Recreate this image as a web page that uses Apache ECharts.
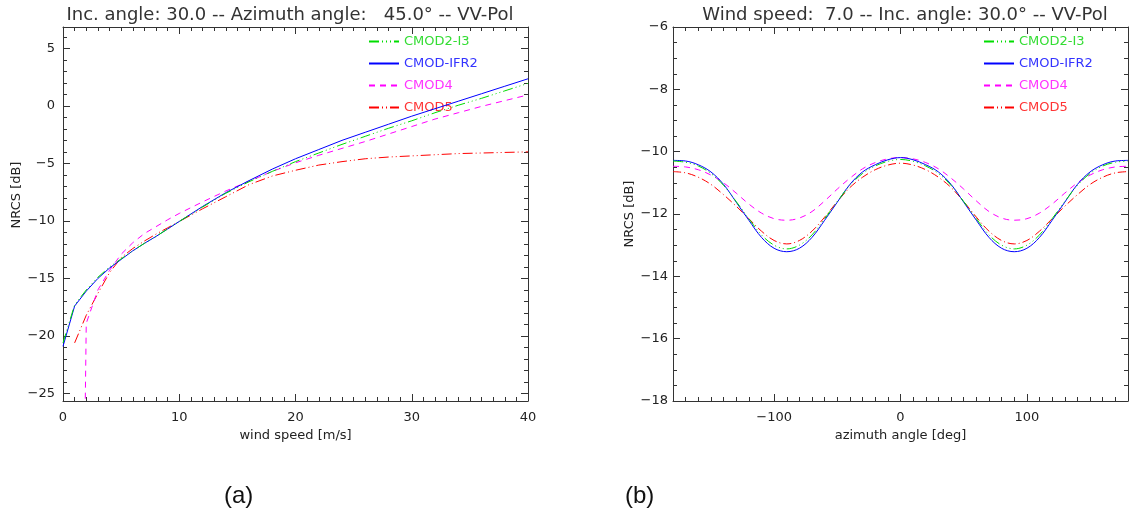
<!DOCTYPE html>
<html><head><meta charset="utf-8">
<script src="https://cdn.jsdelivr.net/npm/echarts@6/dist/echarts.min.js"></script>
<style>html,body{margin:0;padding:0;background:#fff}#c{width:1135px;height:519px}</style>
</head><body><div id="c"></div>
<script>
// ---------- data: panel (a) NRCS vs wind speed ----------
const windSpeed    = [0, 1, 2, 3, 4, 5, 6, 7, 8, 9, 10, 12, 14, 16, 18, 20, 22, 24, 26, 28, 30, 32, 34, 36, 38, 40];
const windCmod2I3  = [-20.6, -17.3, -16.0, -14.9, -14.0, -13.3, -12.6, -11.95, -11.35, -10.7, -10.05, -8.8, -7.6, -6.6, -5.7, -4.85, -4.1, -3.35, -2.65, -1.95, -1.3, -0.6, 0.05, 0.65, 1.3, 1.95];
const windCmodIfr2 = [-20.9, -17.4, -16.1, -15.0, -14.1, -13.35, -12.6, -11.95, -11.35, -10.7, -10.05, -8.75, -7.55, -6.5, -5.5, -4.6, -3.8, -3.0, -2.3, -1.6, -0.9, -0.25, 0.4, 1.05, 1.7, 2.35];
const windCmod4    = [null, -100, -18.9, -16.0, -14.3, -12.9, -11.9, -11.1, -10.5, -9.9, -9.35, -8.35, -7.4, -6.55, -5.7, -4.95, -4.3, -3.7, -3.1, -2.45, -1.8, -1.15, -0.6, -0.05, 0.45, 0.95];
const windCmod5    = [null, -20.6, -18.2, -16.3, -14.5, -13.2, -12.4, -11.75, -11.15, -10.6, -10.05, -8.95, -7.9, -6.85, -6.1, -5.6, -5.15, -4.85, -4.6, -4.45, -4.35, -4.25, -4.15, -4.1, -4.05, -4.0];

// ---------- data: panel (b) NRCS vs azimuth ----------
const azimuth     = [-180, -170, -160, -150, -140, -130, -120, -110, -100, -90, -80, -70, -60, -50, -40, -30, -20, -10, 0, 10, 20, 30, 40, 50, 60, 70, 80, 90, 100, 110, 120, 130, 140, 150, 160, 170, 180];
const aziCmod2I3  = [-10.3, -10.34, -10.46, -10.7, -11.08, -11.6, -12.15, -12.67, -13.0, -13.12, -13.0, -12.67, -12.15, -11.6, -11.08, -10.7, -10.46, -10.31, -10.25, -10.31, -10.46, -10.7, -11.08, -11.6, -12.15, -12.67, -13.0, -13.12, -13.0, -12.67, -12.15, -11.6, -11.08, -10.7, -10.46, -10.34, -10.3];
const aziCmodIfr2 = [-10.28, -10.3, -10.42, -10.65, -11.05, -11.62, -12.2, -12.75, -13.1, -13.21, -13.1, -12.75, -12.2, -11.62, -11.05, -10.65, -10.42, -10.26, -10.19, -10.26, -10.42, -10.65, -11.05, -11.62, -12.2, -12.75, -13.1, -13.21, -13.1, -12.75, -12.2, -11.62, -11.05, -10.65, -10.42, -10.3, -10.28];
const aziCmod4    = [-10.47, -10.49, -10.58, -10.75, -11.0, -11.33, -11.68, -11.97, -12.15, -12.2, -12.13, -11.92, -11.58, -11.2, -10.85, -10.55, -10.35, -10.23, -10.19, -10.23, -10.35, -10.55, -10.85, -11.2, -11.58, -11.92, -12.13, -12.2, -12.15, -11.97, -11.68, -11.33, -11.0, -10.75, -10.58, -10.49, -10.47];
const aziCmod5    = [-10.64, -10.68, -10.82, -11.05, -11.38, -11.75, -12.15, -12.55, -12.85, -12.96, -12.85, -12.55, -12.1, -11.6, -11.15, -10.82, -10.58, -10.43, -10.37, -10.43, -10.58, -10.82, -11.15, -11.6, -12.1, -12.55, -12.85, -12.96, -12.85, -12.55, -12.15, -11.75, -11.38, -11.05, -10.82, -10.68, -10.64];

// ---------- tick labels ----------
const windXTicks = [0, 10, 20, 30, 40];
const windYTicks = [-25, -20, -15, -10, -5, 0, 5];
const aziXTicks  = [-100, 0, 100];
const aziYTicks  = [-18, -16, -14, -12, -10, -8, -6];

const seriesNames = ['CMOD2-I3', 'CMOD-IFR2', 'CMOD4', 'CMOD5'];
const titleA = 'Inc. angle: 30.0 -- Azimuth angle:   45.0\u00b0 -- VV-Pol';
const titleB = 'Wind speed:  7.0 -- Inc. angle: 30.0\u00b0 -- VV-Pol';

// ---------- styling ----------
const AX = '#333';
const TXT = '#222';
const FONT = '"DejaVu Sans", "Liberation Sans", sans-serif';
const colors = {line: ['#00dd00', '#0000ff', '#ff00ff', '#ff0000'], text: ['#33dd33', '#3333ff', '#ff33ff', '#ff3333']};

function range(a, b, step) { const r = []; for (let v = a; v <= b + 1e-9; v += step) r.push(Math.round(v * 1000) / 1000); return r; }
const fmt = v => String(v).replace('-', '\u2212');

function axisSet(dim, gi, min, max, major, minor, opts) {
  const posA = dim === 'x' ? 'bottom' : 'left';
  const posB = dim === 'x' ? 'top' : 'right';
  const base = {
    type: 'value', gridIndex: gi, min: min, max: max,
    splitLine: {show: false}, minorTick: {show: false}, axisPointer: {show: false}
  };
  const mk = (pos, ticks, len, withLabel, withLine, withName) => Object.assign({}, base, {
    position: pos,
    axisLine: {show: withLine, onZero: false, lineStyle: {color: AX, width: 1}},
    axisTick: {show: true, inside: true, length: len, customValues: ticks, lineStyle: {color: AX, width: 1}},
    axisLabel: withLabel ? {show: true, customValues: major, formatter: fmt, margin: opts.margin, color: TXT, fontSize: 13, fontFamily: FONT} : {show: false},
    name: withName ? opts.name : '',
    nameLocation: 'middle', nameGap: opts.nameGap,
    nameRotate: dim === 'y' ? 90 : 0,
    nameTextStyle: {color: TXT, fontSize: 13, fontFamily: FONT, padding: opts.namePad || 0}
  });
  return [
    mk(posA, major, 7, true, true, true),
    mk(posA, minor, 4, false, false, false),
    mk(posB, major, 7, false, true, false),
    mk(posB, minor, 4, false, false, false)
  ];
}

const xAxes = [].concat(
  axisSet('x', 0, 0, 40, windXTicks, range(0, 40, 1), {name: 'wind speed [m/s]', nameGap: 25, margin: 10}),
  axisSet('x', 1, -180, 180, aziXTicks, range(-180, 180, 10), {name: 'azimuth angle [deg]', nameGap: 25, margin: 10})
);
const yAxes = [].concat(
  axisSet('y', 0, -25.65, 6.85, windYTicks, range(-25, 6, 1), {name: 'NRCS [dB]', nameGap: 40, margin: 8, namePad: [0, 0, 0, 38]}),
  axisSet('y', 1, -18, -6, aziYTicks, range(-18, -6, 0.5), {name: 'NRCS [dB]', nameGap: 37, margin: 5})
);

const dashA = [[10, 3, 1, 3, 1, 3, 1, 3], 'solid', [6, 5], [10, 3, 1, 3, 1, 3]];
const dashB = [[10, 3, 1, 3, 1, 3, 1, 3], 'solid', [6, 5], [8, 3, 1, 3]];
const windSets = [windCmod2I3, windCmodIfr2, windCmod4, windCmod5];
const aziSets = [aziCmod2I3, aziCmodIfr2, aziCmod4, aziCmod5];

const series = [];
windSets.forEach((vals, k) => {
  series.push({
    type: 'line', name: seriesNames[k], xAxisIndex: 0, yAxisIndex: 0,
    data: windSpeed.map((x, i) => [x, vals[i]]).filter(p => p[1] !== null),
    symbol: 'none', clip: true, z: 10 - k,
    lineStyle: {color: colors.line[k], width: 1, type: dashA[k]}
  });
});
aziSets.forEach((vals, k) => {
  series.push({
    type: 'line', name: seriesNames[k], xAxisIndex: 4, yAxisIndex: 4,
    data: azimuth.map((x, i) => [x, vals[i]]),
    symbol: 'none', clip: true, smooth: 0.35, z: 10 - k,
    lineStyle: {color: colors.line[k], width: 1, type: dashB[k]}
  });
});

function legendAt(left) {
  return {
    left: left, top: 35, orient: 'vertical', padding: 0,
    itemWidth: 30, itemHeight: 10, itemGap: 9, selectedMode: false,
    itemStyle: {opacity: 0},
    data: seriesNames.map((n, k) => ({name: n, textStyle: {color: colors.text[k]}})),
    textStyle: {fontSize: 13, fontFamily: FONT}
  };
}

const chart = echarts.init(document.getElementById('c'), null, {renderer: 'canvas'});
chart.setOption({
  animation: false,
  backgroundColor: '#fff',
  title: [
    {text: titleA, left: 285, top: 1, textAlign: 'center', textStyle: {fontSize: 18, fontWeight: 'normal', color: '#333', fontFamily: FONT}},
    {text: titleB, left: 900, top: 1, textAlign: 'center', textStyle: {fontSize: 18, fontWeight: 'normal', color: '#333', fontFamily: FONT}}
  ],
  legend: [legendAt(368), legendAt(983)],
  grid: [
    {left: 63, top: 27, width: 465, height: 374, containLabel: false},
    {left: 673, top: 27, width: 455, height: 374, containLabel: false}
  ],
  xAxis: xAxes,
  yAxis: yAxes,
  series: series,
  graphic: [
    {type: 'text', left: 224, top: 484, style: {text: '(a)', fontSize: 24, fontFamily: '"Liberation Sans Narrow", "Liberation Sans", Arial, sans-serif', fill: '#111'}},
    {type: 'text', left: 625, top: 484, style: {text: '(b)', fontSize: 24, fontFamily: '"Liberation Sans Narrow", "Liberation Sans", Arial, sans-serif', fill: '#111'}}
  ]
});
</script>
</body></html>
